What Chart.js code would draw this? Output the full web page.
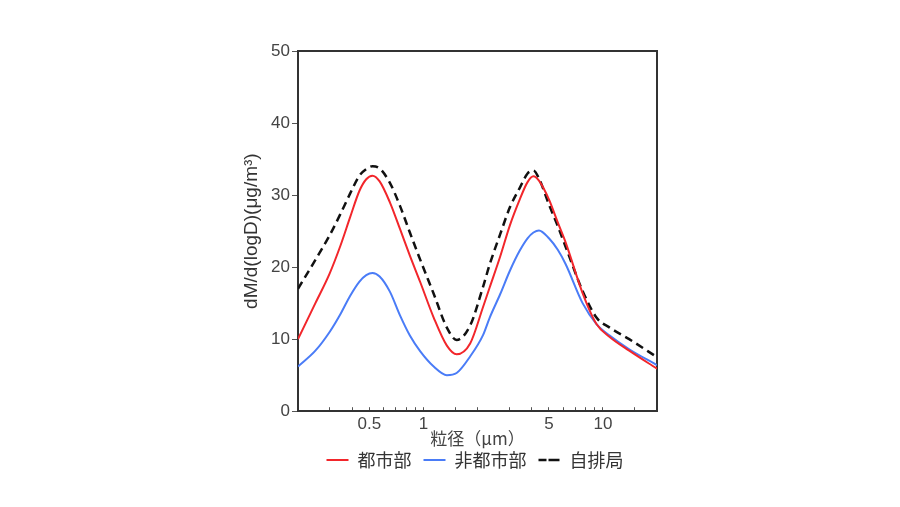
<!DOCTYPE html>
<html>
<head>
<meta charset="utf-8">
<script src="https://cdn.jsdelivr.net/npm/chart.js@4.4.1/dist/chart.umd.min.js"></script>
<style>
  html, body { margin: 0; padding: 0; background: #fff; }
  #wrap { width: 900px; height: 507px; }
</style>
</head>
<body>
<div id="wrap"><canvas id="mycanvas"></canvas></div>
<script>
// particle size (um), log axis
var sizes = [0.2, 0.25, 0.3, 0.345, 0.39, 0.44, 0.48, 0.52, 0.57, 0.65, 0.74, 0.84, 0.96, 1.14, 1.35, 1.53, 1.82, 2.15, 2.34, 2.67, 3.03, 3.44, 3.8, 4.1, 4.4, 5.0, 5.6, 6.2, 7.7, 9.2, 10.9, 14, 20];

// dM/d(logD) values
var urban    = [10.0, 15.0, 19.1, 23.0, 26.9, 30.6, 32.2, 32.7, 31.9, 29.0, 25.3, 21.6, 17.9, 13.0, 9.1, 7.9, 9.4, 14.5, 17.2, 21.4, 25.8, 29.4, 31.8, 32.6, 32.0, 29.4, 26.2, 23.4, 16.4, 12.1, 10.3, 8.4, 5.9];
var nonUrban = [6.2, 8.4, 11.0, 13.5, 16.0, 18.0, 18.9, 19.2, 18.7, 16.6, 13.3, 10.5, 8.3, 6.2, 5.0, 5.3, 7.6, 10.6, 13.0, 16.2, 19.5, 22.3, 24.0, 24.8, 25.1, 24.0, 22.4, 20.4, 15.0, 12.1, 10.5, 8.6, 6.4];
var roadside = [17.0, 21.0, 24.4, 27.4, 30.2, 32.7, 33.6, 34.0, 33.7, 31.7, 28.5, 24.8, 21.0, 16.3, 11.6, 9.9, 11.9, 17.3, 20.4, 24.5, 28.3, 31.0, 33.0, 33.4, 32.3, 28.7, 25.7, 22.8, 16.7, 13.0, 11.6, 10.0, 7.5];

var labelTicks = [0.5, 1, 5, 10];
var seriesNames = ['都市部', '非都市部', '自排局'];

function pts(arr) {
  var out = [];
  for (var i in arr) {
    out.push({x: sizes[i], y: arr[i]});
  }
  return out;
}

var font = "'Liberation Sans', Arial, 'Noto Sans CJK JP', sans-serif";
var cjk = "'Noto Sans CJK JP', sans-serif";
Chart.defaults.font.family = font;

var ctx = document.getElementById('mycanvas').getContext('2d');

var chart = new Chart(ctx, {
  type: 'line',
  data: {
    datasets: [
      {
        label: seriesNames[0],
        data: pts(urban),
        borderColor: '#f2262b',
        backgroundColor: '#f2262b',
        borderWidth: 2,
        pointRadius: 0,
        cubicInterpolationMode: 'monotone'
      },
      {
        label: seriesNames[1],
        data: pts(nonUrban),
        borderColor: '#4a7cf7',
        backgroundColor: '#4a7cf7',
        borderWidth: 2,
        pointRadius: 0,
        cubicInterpolationMode: 'monotone'
      },
      {
        label: seriesNames[2],
        data: pts(roadside),
        borderColor: '#111',
        backgroundColor: '#111',
        borderWidth: 2.5,
        borderDash: [8, 5],
        pointRadius: 0,
        cubicInterpolationMode: 'monotone'
      }
    ]
  },
  options: {
    responsive: true,
    maintainAspectRatio: false,
    animation: false,
    layout: {
      padding: {left: 240, right: 190, top: 51, bottom: 28}
    },
    plugins: {
      tooltip: {enabled: false},
      legend: {
        position: 'bottom',
        labels: {
          boxWidth: 22,
          boxHeight: 0, // zero-height box -> drawn as a (dashed) line
          padding: 12,
          color: '#333',
          font: {size: 18, family: cjk}
        }
      }
    },
    scales: {
      x: {
        type: 'logarithmic',
        min: 0.2,
        max: 20,
        grid: {display: true, drawOnChartArea: false, tickLength: -4, color: '#555'},
        border: {display: true, color: '#333', width: 2},
        ticks: {
          autoSkip: false,
          maxRotation: 0,
          padding: 7,
          color: '#444',
          font: {size: 17},
          callback: function(v) {
            return labelTicks.indexOf(v) >= 0 ? String(v) : '';
          }
        },
        title: {
          display: true,
          text: '粒径（μm）',
          color: '#444',
          padding: {top: -13, bottom: -10},
          font: {size: 17, family: cjk}
        }
      },
      y: {
        min: 0,
        max: 50,
        afterFit: function(scale) { scale.width = 58; },
        grid: {display: true, drawOnChartArea: false, tickLength: 6, color: '#555'},
        border: {display: true, color: '#333', width: 2},
        ticks: {stepSize: 10, padding: 2, color: '#444', font: {size: 17}},
        title: {
          display: true,
          text: 'dM/d(logD)(μg/m³)',
          color: '#333',
          padding: {top: 0, bottom: 0},
          font: {size: 19}
        }
      },
      x2: {
        type: 'logarithmic',
        position: 'top',
        min: 0.2,
        max: 20,
        afterFit: function(scale) { scale.height = 0; },
        grid: {display: false},
        ticks: {display: false},
        border: {display: true, color: '#333', width: 2}
      },
      y2: {
        position: 'right',
        min: 0,
        max: 50,
        afterFit: function(scale) { scale.width = 53; },
        grid: {display: false},
        ticks: {display: false},
        border: {display: true, color: '#333', width: 2}
      }
    }
  }
});
</script>
</body>
</html>
